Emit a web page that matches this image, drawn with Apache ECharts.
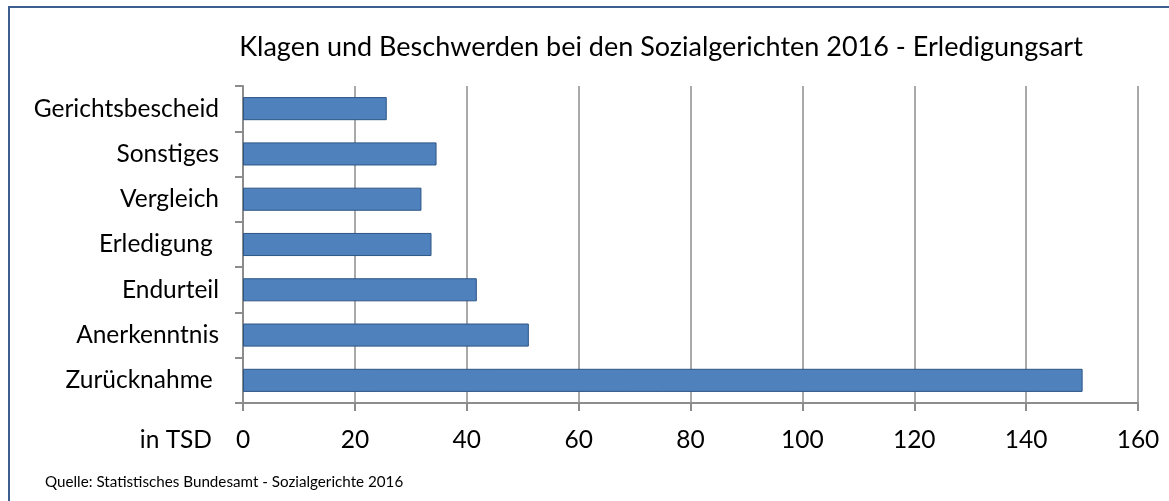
<!DOCTYPE html>
<html>
<head>
<meta charset="utf-8">
<script src="https://cdn.jsdelivr.net/npm/echarts@6/dist/echarts.min.js"></script>
<style>
  html, body { margin: 0; padding: 0; background: #fff; }
  #main { width: 1169px; height: 501px; }
</style>
</head>
<body>
<div id="main"></div>
<script>
// Kategorien von oben nach unten wie im Original
const categories = ['Gerichtsbescheid', 'Sonstiges', 'Vergleich', 'Erledigung ', 'Endurteil', 'Anerkenntnis', 'Zurücknahme ']
// Werte in Tausend
const values = [25.7, 34.6, 31.9, 33.7, 41.8, 51.1, 150.1]
const xTicks = [0, 20, 40, 60, 80, 100, 120, 140, 160]

const titleText = 'Klagen und Beschwerden bei den Sozialgerichten 2016 - Erledigungsart'
const sourceText = 'Quelle: Statistisches Bundesamt - Sozialgerichte 2016'

const font = 'Lato, "Open Sans", sans-serif'
const gray = '#8c8c8c'

const chart = echarts.init(document.getElementById('main'))

chart.setOption({
  animation: false,
  title: {
    text: titleText,
    left: 656,
    textAlign: 'center',
    top: 29,
    textStyle: { fontFamily: font, fontSize: 27, fontWeight: 'normal', color: '#000' }
  },
  graphic: [
    // Rahmen (rechts und unten abgeschnitten)
    {
      type: 'rect',
      shape: { x: 9, y: 7, width: 1300, height: 700 },
      style: { fill: null, stroke: '#3d5f8f', lineWidth: 2 },
      z: 100
    },
    {
      type: 'text',
      left: 45,
      top: 475,
      style: { text: sourceText, fontFamily: font, fontSize: 15.2, fill: '#000' }
    }
  ],
  grid: { left: 243, right: 31, top: 86, bottom: 98, containLabel: false },
  xAxis: {
    type: 'value',
    min: 0,
    max: 160,
    interval: 20,
    name: 'in TSD',
    nameLocation: 'start',
    nameGap: 31,
    nameTextStyle: { fontFamily: font, fontSize: 24.5, color: '#000', verticalAlign: 'top', padding: [25, 0, 0, 0] },
    axisLine: { show: true, lineStyle: { color: gray, width: 2 } },
    axisTick: { show: true, length: 8, lineStyle: { color: gray, width: 2 } },
    axisLabel: {
      fontFamily: font, fontSize: 24.5, color: '#000', margin: 25,
      formatter: v => xTicks.includes(v) ? String(v) : ''
    },
    splitLine: { show: true, lineStyle: { color: gray, width: 1.5 } }
  },
  yAxis: {
    type: 'category',
    inverse: true,
    data: categories,
    axisLine: { show: true, lineStyle: { color: gray, width: 2 } },
    axisTick: { show: true, length: 8, alignWithLabel: false, lineStyle: { color: gray, width: 2 } },
    axisLabel: { fontFamily: font, fontSize: 24.5, color: '#000', margin: 24 }
  },
  series: [{
    type: 'bar',
    data: values,
    barCategoryGap: '49%',
    itemStyle: { color: '#4f81bd', borderColor: '#2c5586', borderWidth: 1 }
  }]
})
</script>
</body>
</html>
